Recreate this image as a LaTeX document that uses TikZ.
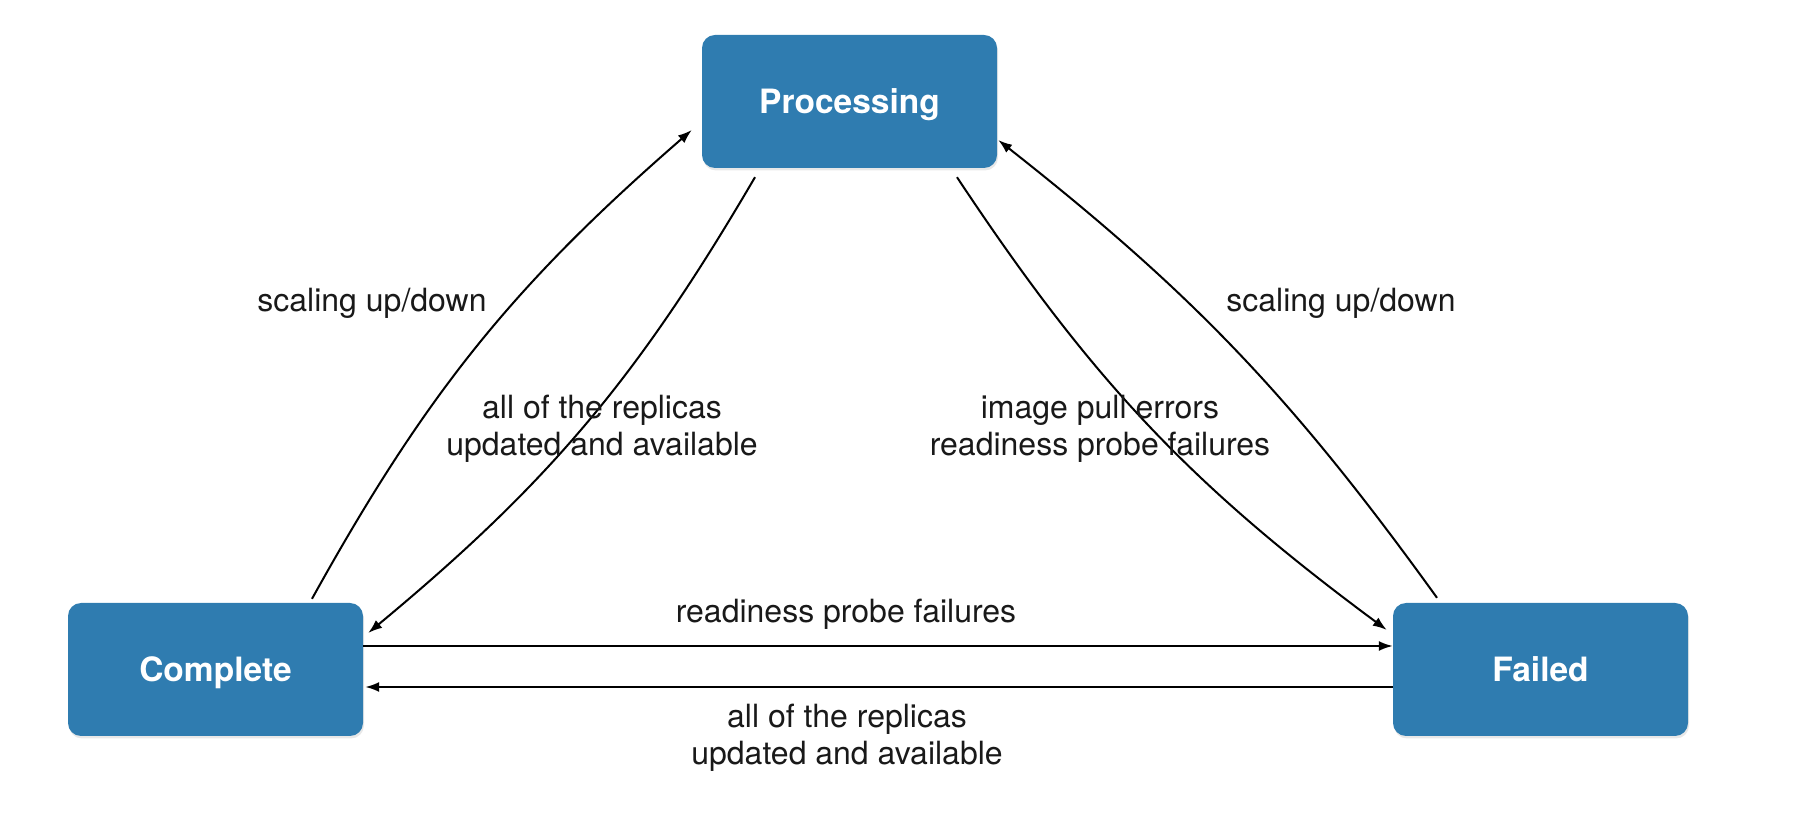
\documentclass[tikz,border=0pt]{standalone}
\usepackage{fontspec}
\setmainfont{TeX Gyre Heros}
\usetikzlibrary{arrows.meta,shadows}
\definecolor{boxblue}{RGB}{47,124,176}
\begin{document}
\begin{tikzpicture}[x=1pt,y=1pt,
  state/.style={draw=none, fill=boxblue, rounded corners=13pt,
    minimum width=295pt, minimum height=133pt, inner sep=0pt,
    text=white, font=\fontsize{33.5}{40}\selectfont\bfseries,
    text height=24pt, text depth=0pt,
    drop shadow={opacity=0.18, shadow xshift=1pt, shadow yshift=-2.5pt}},
  lbl/.style={font=\fontsize{32}{37}\selectfont, text=black!90, inner sep=0pt, align=center},
  arr/.style={-{Latex[length=14pt,width=10pt]}, line width=2pt, black}]
\useasboundingbox (0,0) rectangle (1813,825);
\node[state] (proc) at (849.5,723.5) {Processing};
\node[state] (cmp) at (215.5,155.5) {Complete};
\node[state] (fail) at (1540.5,155.5) {Failed};

\draw[arr] ([xshift=96.5pt,yshift=4pt]cmp.north) to[bend left=10] ([xshift=-10pt,yshift=-28.5pt]proc.west);
\draw[arr] ([xshift=-94.5pt,yshift=-9pt]proc.south) to[bend left=10] ([xshift=5pt,yshift=36.5pt]cmp.east);
\draw[arr] ([xshift=107.5pt,yshift=-9pt]proc.south) to[bend right=10] ([xshift=-6pt,yshift=39.5pt]fail.west);
\draw[arr] ([xshift=-103.5pt,yshift=5pt]fail.north) to[bend right=8] ([xshift=1pt,yshift=-38.5pt]proc.east);
\draw[arr] ([yshift=23.5pt]cmp.east) -- ([yshift=23.5pt]fail.west);
\draw[arr] ([yshift=-17.5pt]fail.west) -- ([xshift=2pt,yshift=-17.5pt]cmp.east);

\node[lbl, anchor=base] (l1) at (372,513.5) {scaling up/down};
\node[lbl, anchor=base] (r1) at (1341,513.5) {scaling up/down};
\node[lbl, anchor=base] (l2) at (602,369) {all of the replicas\\updated and available};
\node[lbl, anchor=base] (r2) at (1100,369) {image pull errors\\readiness probe failures};
\node[lbl, anchor=base] (b1) at (846,202) {readiness probe failures};
\node[lbl, anchor=base] (b2) at (847,60) {all of the replicas\\updated and available};
\end{tikzpicture}
\end{document}
